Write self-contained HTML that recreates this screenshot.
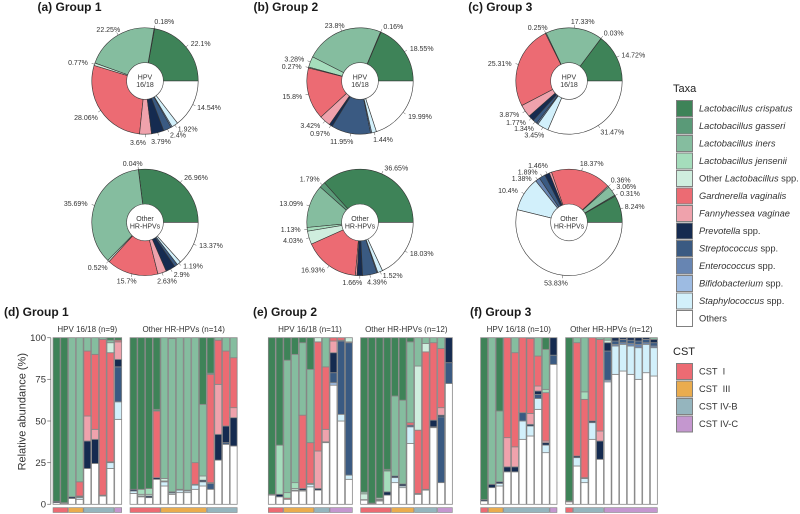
<!DOCTYPE html>
<html lang="en">
<head>
<meta charset="utf-8">
<title>Vaginal microbiome composition by group</title>
<style>
html,body{margin:0;padding:0;background:#fff;}
svg{display:block;font-family:"Liberation Sans",Arial,sans-serif;}
.ptitle{font-size:12px;font-weight:bold;fill:#1a1a1a;}
.leg{font-size:9.3px;fill:#333;}
.legt{font-size:11px;fill:#222;}
.sw{stroke:#808080;stroke-width:1;}
</style>
</head>
<body>
<svg id="chart" xmlns="http://www.w3.org/2000/svg" width="800" height="514" viewBox="0 0 800 514">
  <text class="ptitle" x="37.5" y="11">(a) Group 1</text>
  <text class="ptitle" x="253.5" y="11">(b) Group 2</text>
  <text class="ptitle" x="468.3" y="11">(c) Group 3</text>
  <text class="ptitle" x="4" y="316">(d) Group 1</text>
  <text class="ptitle" x="253" y="316">(e) Group 2</text>
  <text class="ptitle" x="470" y="316">(f) Group 3</text>

  <text x="25.5" y="411.7" transform="rotate(-90 25.5 411.7)" text-anchor="middle" font-size="11" fill="#333">Relative abundance (%)</text>

  <g>
    <text class="legt" x="673" y="92">Taxa</text>
    <rect class="sw" x="676.5" y="100.5" width="16" height="16" fill="#3E8358"/>
    <rect class="sw" x="676.5" y="118" width="16" height="16" fill="#5A9A78"/>
    <rect class="sw" x="676.5" y="135.5" width="16" height="16" fill="#85BD9F"/>
    <rect class="sw" x="676.5" y="153" width="16" height="16" fill="#A5DDBC"/>
    <rect class="sw" x="676.5" y="170.5" width="16" height="16" fill="#CFEEDE"/>
    <rect class="sw" x="676.5" y="188" width="16" height="16" fill="#EC6B73"/>
    <rect class="sw" x="676.5" y="205.5" width="16" height="16" fill="#EFA2AC"/>
    <rect class="sw" x="676.5" y="223" width="16" height="16" fill="#152B50"/>
    <rect class="sw" x="676.5" y="240.5" width="16" height="16" fill="#3A5A82"/>
    <rect class="sw" x="676.5" y="258" width="16" height="16" fill="#6785B2"/>
    <rect class="sw" x="676.5" y="275.5" width="16" height="16" fill="#9DBBE2"/>
    <rect class="sw" x="676.5" y="293" width="16" height="16" fill="#D2F0FB"/>
    <rect class="sw" x="676.5" y="310.5" width="16" height="16" fill="#FFFFFF"/>
    <text class="leg" x="699" y="111.5" font-style="italic">Lactobacillus crispatus</text>
    <text class="leg" x="699" y="129" font-style="italic">Lactobacillus gasseri</text>
    <text class="leg" x="699" y="146.5" font-style="italic">Lactobacillus iners</text>
    <text class="leg" x="699" y="164" font-style="italic">Lactobacillus jensenii</text>
    <text class="leg" x="699" y="181.5">Other <tspan font-style="italic">Lactobacillus</tspan> spp.</text>
    <text class="leg" x="699" y="199" font-style="italic">Gardnerella vaginalis</text>
    <text class="leg" x="699" y="216.5" font-style="italic">Fannyhessea vaginae</text>
    <text class="leg" x="699" y="234"><tspan font-style="italic">Prevotella</tspan> spp.</text>
    <text class="leg" x="699" y="251.5"><tspan font-style="italic">Streptococcus</tspan> spp.</text>
    <text class="leg" x="699" y="269"><tspan font-style="italic">Enterococcus</tspan> spp.</text>
    <text class="leg" x="699" y="286.5"><tspan font-style="italic">Bifidobacterium</tspan> spp.</text>
    <text class="leg" x="699" y="304"><tspan font-style="italic">Staphylococcus</tspan> spp.</text>
    <text class="leg" x="699" y="321.5">Others</text>
  </g>

  <g>
    <text class="legt" x="673" y="355">CST</text>
    <rect class="sw" x="676.5" y="363.5" width="16" height="16" fill="#EC6B73"/>
    <rect class="sw" x="676.5" y="381" width="16" height="16" fill="#EAAC4E"/>
    <rect class="sw" x="676.5" y="398.5" width="16" height="16" fill="#95B5BE"/>
    <rect class="sw" x="676.5" y="416" width="16" height="16" fill="#C497CF"/>
    <text class="leg" x="699" y="374.5" xml:space="preserve" style="white-space:pre">CST  I</text>
    <text class="leg" x="699" y="392" xml:space="preserve" style="white-space:pre">CST  III</text>
    <text class="leg" x="699" y="409.5">CST IV-B</text>
    <text class="leg" x="699" y="427">CST IV-C</text>
  </g>
</svg>

<script>
// ---------- shared categories ----------
const taxaOrder = ['C','G','I','J','L','V','F','P','S','E','B','T','O'];
const taxaColors = ['#3E8358','#5A9A78','#85BD9F','#A5DDBC','#CFEEDE','#EC6B73','#EFA2AC','#152B50','#3A5A82','#6785B2','#9DBBE2','#D2F0FB','#FFFFFF'];
const cstColors = {I:'#EC6B73',III:'#EAAC4E',IVB:'#95B5BE',IVC:'#C497CF'};
const yTicks = [0,25,50,75,100];

// ---------- pie values (% per taxon, same order as taxaOrder) ----------
const pieGroup1Hpv   = [22.1,0.18,22.25,0,0.77,28.06,3.6,3.79,2.4,0.39,0,1.92,14.54];
const pieGroup1Other = [26.96,0.04,35.69,0,0.52,15.7,2.63,2.9,1,0,0,1.19,13.37];
const pieGroup2Hpv   = [18.55,0.16,23.8,3.28,0.27,15.8,3.42,0.97,11.95,0.37,0,1.44,19.99];
const pieGroup2Other = [36.65,1.79,13.09,1.13,4.03,16.93,0.5,1.66,4.39,0.28,0,1.52,18.03];
const pieGroup3Hpv   = [14.72,0.03,17.33,0,0.25,25.31,3.87,1.77,1.34,0.46,0,3.45,31.47];
const pieGroup3Other = [8.24,0.31,3.06,0,0.36,18.37,0.7,1.46,1.89,1.38,0,10.4,53.83];

// ---------- bar values: per-sample taxon abundance (%) ----------
const barsGroup1Hpv = [
{O:1,P:.8,C:98.2},{O:.6,P:.4,C:99},{O:3.5,P:1,I:95.5},{O:3,T:1,S:.4,P:.6,V:8.5,I:86.5},
{O:21.5,P:16.5,F:15,V:39,I:8},{O:24.5,P:14.5,F:6,V:45,I:10},{O:5,P:.5,V:93.5,I:1},
{O:21.5,T:3.5,P:.5,V:65.5,L:6,I:1.5,C:1.5},{O:51,T:10.5,S:21,P:4.5,F:10.5,V:1,C:1.5}];
const barsGroup1Other = [
{O:6.5,T:1.5,P:1,C:91},{O:4.5,L:1,J:3,P:.5,C:91},{O:4,L:1,J:3.5,P:1,C:90.5},{O:15,P:1,V:40,G:1,C:43},
{O:11,T:2.5,L:1.5,V:.5,I:84.5},{O:6,T:.8,P:.7,I:92,G:.5},{O:7,T:1.5,P:.5,I:91},{O:7,T:1,P:.5,I:91.5},
{O:9,T:2.5,P:.5,V:13,I:75},{O:11,T:2.5,P:1,L:2.5,I:43,C:40},{O:9,S:3.5,P:.5,V:65,G:.7,C:21.3},
{O:26.5,P:15.5,F:30,V:26.5,I:1.5},{O:36,S:1,P:10,V:45,I:8},{O:35,P:17,F:6,V:30,I:12}];
const barsGroup2Hpv = [
{O:5.5,P:.5,C:94},{O:4.5,P:1.5,J:29.5,C:64.5},{O:3,V:.7,J:3.3,I:79.5,C:13.5},{O:8,P:.5,L:1,J:3.5,I:77,C:10},
{O:8,T:.5,P:1,V:44,I:43.5,C:3},{O:10.5,T:1.5,P:.5,V:24.5,I:44,C:19},{O:8.5,P:1,F:22.5,V:65.5,L:2.5},
{O:37,P:.5,F:7.5,V:37.5,I:17.5},{O:71.5,B:1.5,S:6,P:12,F:7,V:2},{O:50,T:4,S:44,P:.5,V:1.5},{O:15,T:2.5,S:79.5,P:.5,L:2.5}];
const barsGroup2Other = [
{O:2.5,L:3.5,J:1,P:.3,C:92.7},{O:.3,P:.4,C:99.3},{O:2,T:.5,P:.5,L:.8,C:96.2},{O:5.5,P:2,J:12.5,G:1,C:79},
{O:13,T:3,P:1,I:48,C:35},{O:10,T:1,P:1.2,I:50.3,C:37.5},{O:36.5,T:10,S:1,V:1.5,I:48.5,C:2.5},
{O:6,P:.5,V:38,L:38.5,I:17},{O:8.5,P:.5,V:82.5,L:5,I:3.5},{O:46,S:.5,P:4,V:46.5,I:3},
{O:13,S:39.5,P:1,F:4.5,V:35.5,I:6.5},{O:72.5,S:12.5,P:15}];
const barsGroup3Hpv = [
{O:2,P:.8,C:97.2},{O:10,P:2,I:88},{O:11,T:1.5,P:1,I:42.5,C:44},{O:19.5,P:3,F:17.5,V:60},
{O:19.5,P:3,F:12,V:56.5,I:9},{O:39,T:11,S:5,V:45},{O:41,T:6,P:1,F:6.5,V:45,I:.5},
{O:57,T:6.5,S:2.5,P:2,F:3,V:18,I:11},{O:31,T:4.5,P:1.5,F:1,V:29,J:2,I:24,C:7},{O:84,S:5.5,P:10.5}];
const barsGroup3Other = [
{O:1.5,P:.5,C:98},{O:23,T:5,P:1,V:68,I:3},{O:13,T:2.5,P:.5,V:47,J:4.5,I:32.5},{O:39,T:10,P:1,V:50},
{O:27,P:11,F:6,V:55,I:1},{O:73.5,B:1,S:17.5,P:5,L:1.5,I:1.5},{O:78,T:17,E:1,S:2,P:2},{O:80,T:16,E:1,S:2,P:1},
{O:78,T:17,E:1.5,S:2,P:1.5},{O:75,T:19,E:2,S:2,P:2},{O:79,T:17,E:1,S:2,P:1},{O:77,T:17,E:1,S:2,P:2,I:1}];

// ---------- per-sample CST assignment ----------
const cstGroup1Hpv   = ['I','I','III','III','IVB','IVB','IVB','IVB','IVC'];
const cstGroup1Other = ['I','I','I','I','III','III','III','III','III','III','IVB','IVB','IVB','IVB'];
const cstGroup2Hpv   = ['I','I','III','III','III','III','IVB','IVB','IVC','IVC','IVC'];
const cstGroup2Other = ['I','I','I','I','III','III','III','IVB','IVB','IVB','IVC','IVC'];
const cstGroup3Hpv   = ['I','III','III','IVB','IVB','IVB','IVB','IVB','IVB','IVC'];
const cstGroup3Other = ['I','IVB','IVB','IVB','IVB','IVC','IVC','IVC','IVC','IVC','IVC','IVC'];

// ---------- drawing ----------
const svg = document.getElementById('chart');
const NS = 'http://www.w3.org/2000/svg';
function make(tag, attrs, parent){
  const n = document.createElementNS(NS, tag);
  for (const k in attrs) n.setAttribute(k, attrs[k]);
  parent.appendChild(n);
  return n;
}
const yBase = 504.3, yPerUnit = 1.666;
function yScale(v){ return yBase - v * yPerUnit; }
const barStep = 7.7, barWidth = 7;
function xBar(start, i){ return start + i * barStep + 0.35; }

const pieRadius = 53.2, holeRadius = 18.4;
function polar(cx, cy, r, pct){
  const a = pct * 3.6 * Math.PI / 180;
  return [cx + r * Math.cos(a), cy - r * Math.sin(a)];
}

function drawPie(values, cx, cy, centerLines, anchors, name){
  const g = make('g', {}, svg);
  
  
  const total = values.reduce((a, b) => a + b, 0);
  let cum = 0;
  values.forEach((raw, i) => {
    if (raw <= 0) return;
    const v = raw / total * 100;
    const p0 = polar(cx, cy, pieRadius, cum);
    const p1 = polar(cx, cy, pieRadius, cum + v);
    const large = v > 50 ? 1 : 0;
    const s = make('path', {
      d: 'M' + cx + ' ' + cy + 'L' + p0[0].toFixed(2) + ' ' + p0[1].toFixed(2) +
         'A' + pieRadius + ' ' + pieRadius + ' 0 ' + large + ' 0 ' + p1[0].toFixed(2) + ' ' + p1[1].toFixed(2) + 'Z',
      fill: taxaColors[i], stroke: '#333', 'stroke-width': 0.6
    }, g);
    
    
    const anchor = anchors[i];
    if (anchor) {
      const t0 = polar(cx, cy, pieRadius, cum + v / 2);
      const t1 = polar(cx, cy, pieRadius + 3, cum + v / 2);
      const tick = make('line', {x1: t0[0], y1: t0[1], x2: t1[0], y2: t1[1], stroke: '#555', 'stroke-width': 0.5}, g);
      
      
      const lab = make('text', {x: cx + anchor[0], y: cy + anchor[1] + 2.5, 'text-anchor': 'middle', 'font-size': 7, fill: '#333'}, g);
      lab.textContent = raw + '%';
      
      
    }
    cum += v;
  });
  const hole = make('circle', {cx: cx, cy: cy, r: holeRadius, fill: '#fff', stroke: '#444', 'stroke-width': 0.6}, g);
  
  
  centerLines.forEach((line, i) => {
    const c = make('text', {x: cx, y: cy - 1.5 + i * 7.5, 'text-anchor': 'middle', 'font-size': 7, fill: '#333'}, g);
    c.textContent = line;
    
    
  });
}

function drawBars(rows, cst, start, title, titleX, name){
  const g = make('g', {}, svg);
  
  
  const t = make('text', {x: titleX, y: 332, 'text-anchor': 'middle', 'font-size': 8, fill: '#333'}, g);
  t.textContent = title;
  
  
  rows.forEach((row, i) => {
    let acc = 0;
    for (let k = taxaOrder.length - 1; k >= 0; k--) {
      const v = row[taxaOrder[k]] || 0;
      if (v <= 0) continue;
      const r = make('rect', {
        x: xBar(start, i), y: yScale(acc + v), width: barWidth, height: v * yPerUnit,
        fill: taxaColors[k], stroke: '#868686', 'stroke-width': 0.8
      }, g);
      
      
      acc += v;
    }
  });
  let runStart = 0;
  for (let i = 1; i <= cst.length; i++) {
    if (i === cst.length || cst[i] !== cst[runStart]) {
      const s = make('rect', {
        x: xBar(start, runStart), y: 507.6, width: (i - runStart) * barStep - (barStep - barWidth), height: 4.9,
        fill: cstColors[cst[runStart]], stroke: '#868686', 'stroke-width': 0.6
      }, g);
      
      
      runStart = i;
    }
  }
}

function drawAxis(){
  const g = make('g', {}, svg);
  
  
  const axisX = 50.8;
  const axisLine = make('line', {x1: axisX, x2: axisX, y1: yScale(100), y2: yScale(0), stroke: '#777', 'stroke-width': 0.8}, g);
  
  
  yTicks.forEach(v => {
    const tick = make('line', {x1: axisX - 3.6, x2: axisX, y1: yScale(v), y2: yScale(v), stroke: '#777', 'stroke-width': 0.8}, g);
    
    
    const lab = make('text', {x: 46, y: yScale(v) + 3.3, 'text-anchor': 'end', 'font-size': 9.5, fill: '#333'}, g);
    lab.textContent = v;
    
    
  });
}

// Label anchors are layout only: offset of each printed label from its pie centre, by taxon index.
function pieLabelLayouts(){
  return {
    a1:{0:[55.7,-37.7],1:[19.3,-59.3],2:[-36.7,-51.7],4:[-67,-18.3],5:[-59,36.3],6:[-7,61.3],7:[16,60.3],8:[33,54],11:[42.7,48],12:[64,26.7]},
    a2:{0:[51,-44.7],1:[-12.3,-59],2:[-69.3,-19],4:[-47.3,45.3],5:[-18.3,58.6],6:[22,58.6],7:[36.7,52],11:[48,43.6],12:[66,23.3]},
    b1:{0:[61.7,-32.7],1:[33.3,-54.3],2:[-25.3,-55.3],3:[-65.7,-22],4:[-68.3,-14.7],5:[-67.7,15.7],6:[-49.7,44.3],7:[-40,52.3],8:[-18.3,60.7],11:[23,58.7],12:[60,35.3]},
    b2:{0:[36.3,-54.4],1:[-50.3,-43.4],2:[-68.7,-18.7],3:[-69.3,6.9],4:[-67,17.9],5:[-47,47.6],7:[-7.7,60.3],8:[17,59.6],11:[32.7,53.3],12:[61.7,30.9]},
    c1:{0:[64.3,-26],1:[44.7,-48],2:[13.7,-59.3],4:[-31.3,-53.7],5:[-69.3,-17.7],6:[-59.7,33.3],7:[-53,41.3],8:[-45,47.7],11:[-34.7,54],12:[43.3,51]},
    c2:{0:[65.7,-15.7],1:[61,-29],2:[57.3,-36],4:[51.7,-42.4],5:[22.7,-58.7],7:[-31,-56.7],8:[-41.3,-50.4],9:[-47.3,-44],11:[-61,-31.7],12:[-13,60.6]}
  };
}

function drawAll(){
  const layout = pieLabelLayouts();
  const hpv = ['HPV','16/18'], other = ['Other','HR-HPVs'];
  drawPie(pieGroup1Hpv, 145, 81, hpv, layout.a1, 'pie-group1-hpv');
  drawPie(pieGroup1Other, 145, 222.4, other, layout.a2, 'pie-group1-other');
  drawPie(pieGroup2Hpv, 360, 81, hpv, layout.b1, 'pie-group2-hpv');
  drawPie(pieGroup2Other, 360, 222.4, other, layout.b2, 'pie-group2-other');
  drawPie(pieGroup3Hpv, 569, 81, hpv, layout.c1, 'pie-group3-hpv');
  drawPie(pieGroup3Other, 569, 222.4, other, layout.c2, 'pie-group3-other');
  drawAxis();
  drawBars(barsGroup1Hpv, cstGroup1Hpv, 52.7, 'HPV 16/18 (n=9)', 87.3, 'bars-group1-hpv');
  drawBars(barsGroup1Other, cstGroup1Other, 129.7, 'Other HR-HPVs (n=14)', 183.7, 'bars-group1-other');
  drawBars(barsGroup2Hpv, cstGroup2Hpv, 268, 'HPV 16/18 (n=11)', 310, 'bars-group2-hpv');
  drawBars(barsGroup2Other, cstGroup2Other, 360.3, 'Other HR-HPVs (n=12)', 406.3, 'bars-group2-other');
  drawBars(barsGroup3Hpv, cstGroup3Hpv, 480.3, 'HPV 16/18 (n=10)', 518.8, 'bars-group3-hpv');
  drawBars(barsGroup3Other, cstGroup3Other, 565.3, 'Other HR-HPVs (n=12)', 611.3, 'bars-group3-other');
}
drawAll();
</script>
</body>
</html>
